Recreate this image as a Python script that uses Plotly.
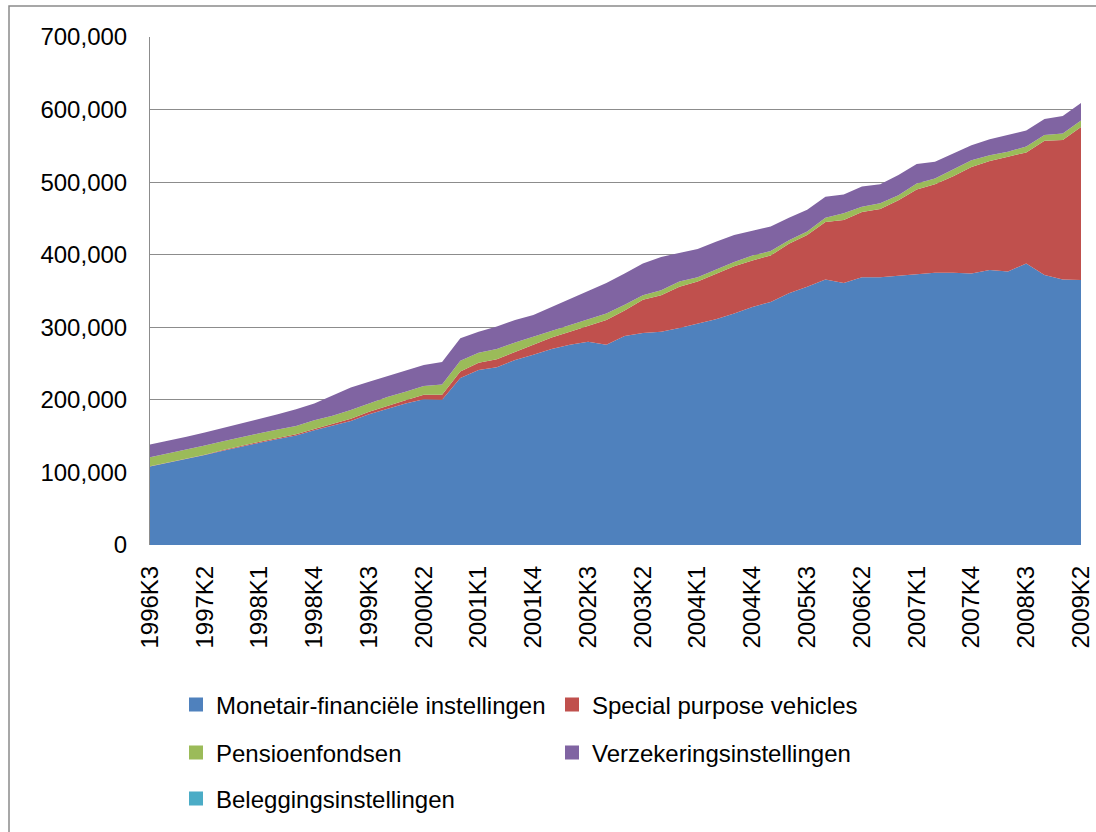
import plotly.graph_objects as go

# Quarter categories (K = kwartaal)
quarters = [
    "1996K3", "1996K4",
    "1997K1", "1997K2", "1997K3", "1997K4",
    "1998K1", "1998K2", "1998K3", "1998K4",
    "1999K1", "1999K2", "1999K3", "1999K4",
    "2000K1", "2000K2", "2000K3", "2000K4",
    "2001K1", "2001K2", "2001K3", "2001K4",
    "2002K1", "2002K2", "2002K3", "2002K4",
    "2003K1", "2003K2", "2003K3", "2003K4",
    "2004K1", "2004K2", "2004K3", "2004K4",
    "2005K1", "2005K2", "2005K3", "2005K4",
    "2006K1", "2006K2", "2006K3", "2006K4",
    "2007K1", "2007K2", "2007K3", "2007K4",
    "2008K1", "2008K2", "2008K3", "2008K4",
    "2009K1", "2009K2",
]

tick_labels = [
    "1996K3", "1997K2", "1998K1", "1998K4", "1999K3", "2000K2",
    "2001K1", "2001K4", "2002K3", "2003K2", "2004K1", "2004K4",
    "2005K3", "2006K2", "2007K1", "2007K4", "2008K3", "2009K2",
]

# Values in thousands
mfi = [108, 113, 118, 124, 130, 136, 141, 146, 151, 158,
       164, 171, 180, 188, 195, 201, 200, 230, 241, 245,
       255, 262, 270, 276, 280, 276, 288, 292, 294, 299,
       305, 311, 319, 328, 335, 347, 356, 366, 361, 369,
       369, 371, 373, 375, 375, 374, 379, 377, 388, 372,
       366, 365]

spv = [0.5, 0.5, 0.5, 0.5, 0.8, 1, 1.2, 1.5, 1.7, 2,
       2.5, 3, 3.5, 4, 4.5, 6, 7, 9, 10, 11,
       11, 13, 16, 18, 22, 34, 35, 46, 50, 57,
       58, 63, 65, 64, 64, 68, 71, 79, 87, 90,
       94, 104, 117, 122, 133, 147, 150, 158, 153, 185,
       192, 211]

pensioen = [12.5, 12.5, 12.5, 12.5, 12.2, 12, 11.8, 11.5, 11.3, 12,
            11.5, 12, 11.5, 12, 11.5, 12, 14, 15, 14, 14,
            13, 12, 9, 9, 9, 9, 8, 6, 7, 7,
            6, 6, 6, 7, 6, 5, 5, 6, 9, 7,
            8, 7, 8, 8, 9, 9, 8, 7, 8, 8,
            9, 9]

verzekering = [17.5, 17.5, 18, 18, 18, 19, 20, 21, 23, 23,
               28, 31, 30, 29, 29, 29, 31, 31, 29, 31,
               31, 30, 33, 36, 39, 42, 43, 44, 46, 39,
               39, 38, 37, 34, 34, 31, 30, 29, 26, 28,
               26, 28, 27, 23, 23, 21, 22, 23, 22, 22,
               24, 24]

belegging = [0] * 52

series_names = [
    "Monetair-financiële instellingen",
    "Special purpose vehicles",
    "Pensioenfondsen",
    "Verzekeringsinstellingen",
    "Beleggingsinstellingen",
]
series_values = [mfi, spv, pensioen, verzekering, belegging]
series_colors = ["#4F81BD", "#C0504D", "#9BBB59", "#8064A2", "#4BACC6"]
series_legends = ["legend", "legend", "legend2", "legend2", "legend3"]

FONT = "Liberation Sans, Arial, sans-serif"
GRID = "#8C8C8C"

fig = go.Figure()

for name, vals, color in zip(series_names, series_values, series_colors):
    fig.add_trace(go.Scatter(
        x=quarters, y=[v * 1000 for v in vals], name=name,
        stackgroup="one", mode="lines",
        line=dict(width=0, color=color), fillcolor=color,
        showlegend=False, hoverinfo="x+y+name",
    ))

for name, color, lg in zip(series_names, series_colors, series_legends):
    fig.add_trace(go.Scatter(
        x=[None], y=[None], name=name, mode="markers",
        marker=dict(symbol="square", size=14, color=color, line=dict(width=0)),
        legend=lg, showlegend=True,
    ))

# Page body margin is removed by the post script, so figure == screen pixels.
W, H = 1096, 832
PLOT_L, PLOT_R, PLOT_T, PLOT_B = 150, 1081, 37, 545
pw = PLOT_R - PLOT_L
ph = PLOT_B - PLOT_T
L, T = PLOT_L, PLOT_T
R = W - L - pw
B = H - T - ph


def px_x(x):
    return (x - PLOT_L) / pw


def px_y(y):
    return (PLOT_B - y) / ph


leg_common = dict(
    orientation="h", xanchor="left", yanchor="middle",
    entrywidth=331, entrywidthmode="pixels", traceorder="normal",
    font=dict(family=FONT, size=24, color="#000000"),
    bgcolor="rgba(0,0,0,0)", borderwidth=0,
)

fig.update_layout(
    width=W, height=H,
    margin=dict(l=L, r=R, t=T, b=B, autoexpand=False),
    paper_bgcolor="white", plot_bgcolor="white",
    font=dict(family=FONT, size=24, color="#000000"),
    legend=dict(x=px_x(176), y=px_y(705), **leg_common),
    legend2=dict(x=px_x(176), y=px_y(753), **leg_common),
    legend3=dict(x=px_x(176), y=px_y(799), **leg_common),
    xaxis=dict(
        type="category", range=[0, len(quarters) - 1],
        tickmode="array", tickvals=tick_labels, ticktext=tick_labels,
        tickangle=-90, tickfont=dict(family=FONT, size=24, color="#000000"),
        showgrid=False, showline=False, zeroline=False, ticks="",
        ticklabelstandoff=15, automargin=False,
    ),
    yaxis=dict(
        range=[0, 700000], tickmode="linear", tick0=0, dtick=100000,
        tickformat=",d", tickfont=dict(family=FONT, size=24, color="#000000"),
        showgrid=True, gridcolor=GRID, gridwidth=1,
        showline=True, linecolor=GRID, linewidth=1, zeroline=False,
        ticks="", ticklabelstandoff=17, automargin=False,
    ),
    shapes=[dict(
        type="rect", xref="paper", yref="paper",
        x0=px_x(9), x1=px_x(1130), y0=px_y(860), y1=px_y(6),
        line=dict(color="#8A8A8A", width=1.5), fillcolor="rgba(0,0,0,0)",
        layer="above",
    )],
)

fig.write_html(
    "out.html",
    config={"displayModeBar": False},
    post_script="document.body.style.margin='0';document.body.style.padding='0';",
)
